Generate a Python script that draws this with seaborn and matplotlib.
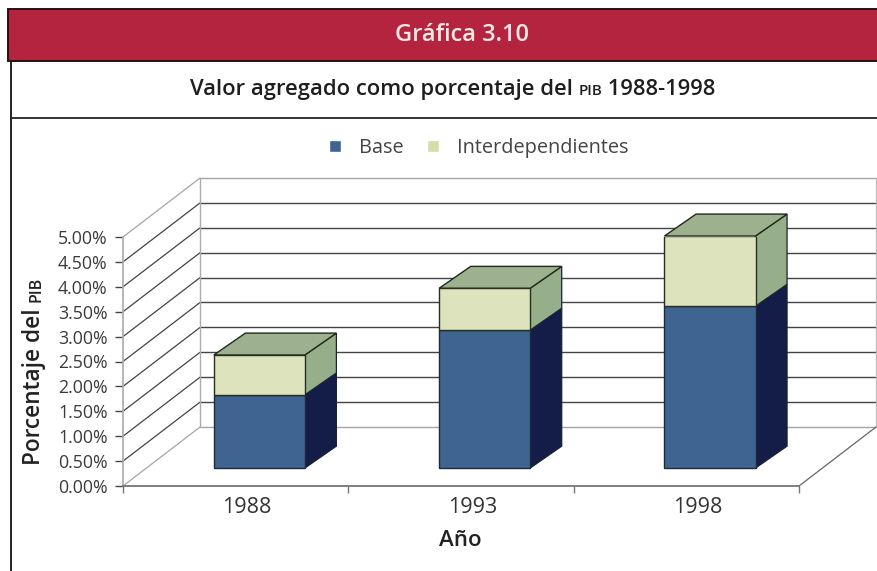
import numpy as np
import pandas as pd
import seaborn as sns
import matplotlib.pyplot as plt
from matplotlib.patches import Polygon, Rectangle, Patch
from matplotlib.lines import Line2D

anios = ["1988", "1993", "1998"]
base = [1.47, 2.77, 3.25]
inter = [0.80, 0.84, 1.41]
y_ticks = [0, 0.5, 1, 1.5, 2, 2.5, 3, 3.5, 4, 4.5, 5]
y_labels = ["0.00%", "0.50%", "1.00%", "1.50%", "2.00%", "2.50%", "3.00%", "3.50%", "4.00%", "4.50%", "5.00%"]

W, H = 878, 571
sns.set_theme(style="white")
plt.rcParams["font.family"] = ["Open Sans", "DejaVu Sans"]

fig = plt.figure(figsize=(W / 100, H / 100), dpi=100, facecolor="white")
ax = fig.add_axes([123 / W, 1 - 486 / H, 676 / W, 249 / H], facecolor="none")

df = pd.DataFrame({"anio": anios, "Base": base, "Interdependientes": inter})

# how the fake 3D is set up, in data units
wall_dx, wall_dy = 0.342, 1.185
bar_dx, bar_dy = 0.14, 0.44
shift_x, lift_y = 0.105, 0.36

sns.barplot(data=df, x="anio", y="Base", bottom=lift_y, width=0.404, color="#3f6491",
            saturation=1, edgecolor="#1c2a3c", linewidth=1.0, zorder=5, ax=ax)
sns.barplot(data=df, x="anio", y="Interdependientes", bottom=lift_y + np.array(base), width=0.404,
            color="#dde3bd", saturation=1, edgecolor="#26301f", linewidth=1.0, zorder=5, ax=ax)

ax.set_xlim(-0.5, 2.5)
ax.set_ylim(0, 5)

# back wall and left wall
for t in y_ticks:
    c = "#a5a5a5" if t in (0, 5) else "#444444"
    ax.plot([-0.5 + wall_dx, 2.5 + wall_dx], [t + wall_dy, t + wall_dy], color=c, lw=1.0, clip_on=False, zorder=1)
    ax.plot([-0.5, -0.5 + wall_dx], [t, t + wall_dy], color=c, lw=0.9, clip_on=False, zorder=1)
ax.plot([-0.5 + wall_dx] * 2, [wall_dy, 5 + wall_dy], color="#adadad", lw=1.0, clip_on=False, zorder=1)
ax.plot([2.5 + wall_dx] * 2, [wall_dy, 5 + wall_dy], color="#bdbdbd", lw=1.0, clip_on=False, zorder=1)
ax.plot([2.5, 2.5 + wall_dx], [0, wall_dy], color="#666666", lw=0.9, clip_on=False, zorder=1)

# side and top faces, built from the bars seaborn drew
n = len(anios)
side_cols = ["#141d47"] * n + ["#97ae8a"] * n
for i, p in enumerate(ax.patches[:2 * n]):
    p.set_x(p.get_x() + shift_x)
    x0, x1 = p.get_x(), p.get_x() + p.get_width()
    y0, y1 = p.get_y(), p.get_y() + p.get_height()
    ax.add_patch(Polygon([(x1, y0), (x1 + bar_dx, y0 + bar_dy), (x1 + bar_dx, y1 + bar_dy), (x1, y1)],
                         facecolor=side_cols[i], edgecolor="#1a2330", lw=0.9, zorder=4, clip_on=False))
    if i >= n:
        ax.add_patch(Polygon([(x0, y1), (x0 + bar_dx, y1 + bar_dy), (x1 + bar_dx, y1 + bar_dy), (x1, y1)],
                             facecolor="#9db18e", edgecolor="#1f2a1c", lw=1.0, zorder=4, clip_on=False))

# axes
ax.set_xlabel("")
ax.set_ylabel("")
ax.set_yticks(y_ticks, y_labels, fontsize=12.8, color="#3a3a3a")
ax.set_xticks([i + 0.05 for i in range(n)], anios, fontsize=15.5, color="#333333")
ax.set_xticks([i - 0.5 for i in range(n + 1)], minor=True)
ax.tick_params(axis="x", which="major", length=0, pad=8)
ax.tick_params(axis="x", which="minor", length=5, width=1, color="#777777", bottom=True)
ax.tick_params(axis="y", length=6, width=1, color="#444444", pad=5, left=True)
for s in ["top", "right"]:
    ax.spines[s].set_visible(False)
ax.spines["left"].set_color("#adadad")
ax.spines["bottom"].set_color("#707070")
ax.spines["left"].set_zorder(1)
ax.spines["bottom"].set_zorder(1)

# frame and header band
fig.add_artist(Rectangle((8 / W, 1 - 61 / H), (W - 8) / W, 52 / H, transform=fig.transFigure,
                         facecolor="#b5243f", edgecolor="#2a1015", lw=1.4))
fig.add_artist(Line2D([11 / W, 11 / W], [0, 1 - 61 / H], color="#222222", lw=1.4))
fig.add_artist(Line2D([11 / W, 1], [1 - 118 / H] * 2, color="#222222", lw=1.3))


def mixed(x, y, parts, rotation=0, **kw):
    # writes pieces one after the other so PIB can go in small caps
    r = fig.canvas.get_renderer()
    for txt, size in parts:
        t = fig.text(x / W, 1 - y / H, txt, fontsize=size, rotation=rotation, ha="left", va="baseline",
                     rotation_mode="anchor", **kw)
        box = t.get_window_extent(r)
        if rotation:
            y -= box.height
        else:
            x += box.width


fig.text(462 / W, 1 - 35 / H, "Gráfica 3.10", color="#f6e9e6", fontsize=17, fontweight="semibold",
         ha="center", va="center")
mixed(190, 95, [("Valor agregado como porcentaje del\u00a0", 15.8), ("PIB", 11), ("\u00a01988-1998", 15.8)],
      color="#1e1e1e", fontweight="semibold")
fig.text(460 / W, 1 - 540 / H, "Año", color="#222222", fontsize=16, fontweight="semibold", ha="center", va="center")
mixed(40, 465, [("Porcentaje del\u00a0", 16.3), ("PIB", 11.5)], rotation=90, color="#222222", fontweight="semibold")

handles = [Patch(facecolor="#3f6491", label="Base"), Patch(facecolor="#d5deaa", label="Interdependientes")]
fig.legend(handles=handles, loc="center", bbox_to_anchor=(479 / W, 1 - 148 / H), ncol=2, frameon=False,
           fontsize=14.3, handlelength=0.6, handleheight=0.6, handletextpad=0.9, columnspacing=1.2,
           labelcolor="#444444")

fig.savefig("out.png", dpi=100)
